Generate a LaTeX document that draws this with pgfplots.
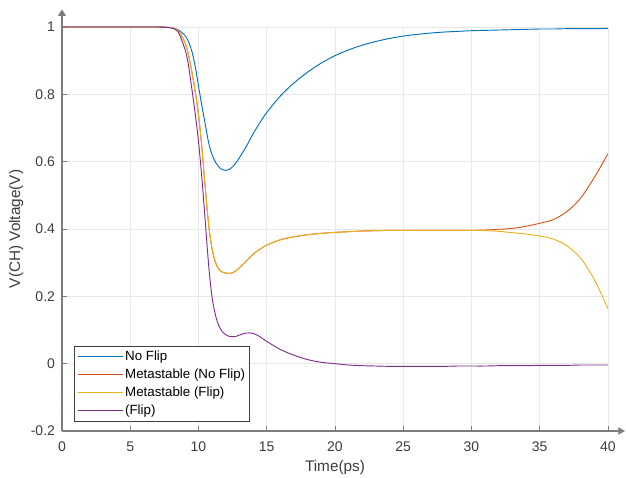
\documentclass[border=0pt]{standalone}
\usepackage{fontspec}
\setmainfont{Liberation Sans}
\usepackage{pgfplots}
\usepackage{pgfplotstable}
\pgfplotsset{compat=1.18}
\usetikzlibrary{arrows.meta}

\definecolor{mblue}{RGB}{0,114,189}
\definecolor{morange}{RGB}{217,83,25}
\definecolor{myellow}{RGB}{237,177,32}
\definecolor{mpurple}{RGB}{126,47,142}
\definecolor{axgray}{RGB}{125,125,125}
\definecolor{labgray}{RGB}{60,60,60}

% channel voltage transients: t (ps), no flip, metastable (no flip), metastable (flip), flip
\pgfplotstableread{
t     nf     mnf    mf     f
0     1      1      1      1
2     1      1      1      1
4     1      1      1      1
6     1      1      1      1
7     1      1      1      1
7.5   0.9995 0.9995 0.9995 0.999
8     0.998  0.998  0.998  0.997
8.5   0.992  0.99   0.99   0.986
9     0.975  0.955  0.955  0.935
9.25  0.958  0.92   0.92   0.89
9.5   0.93   0.87   0.87   0.82
9.75  0.885  0.81   0.81   0.745
10    0.825  0.74   0.74   0.66
10.25 0.765  0.64   0.64   0.55
10.5  0.71   0.52   0.52   0.42
10.75 0.655  0.41   0.41   0.29
11    0.62   0.34   0.34   0.195
11.25 0.598  0.30   0.30   0.143
11.5  0.584  0.28   0.28   0.112
11.75 0.576  0.272  0.272  0.095
12    0.574  0.269  0.269  0.086
12.25 0.577  0.268  0.268  0.081
12.5  0.585  0.27   0.27   0.080
12.75 0.597  0.276  0.276  0.081
13    0.612  0.285  0.285  0.085
13.5  0.645  0.305  0.305  0.091
14    0.683  0.325  0.325  0.090
14.5  0.716  0.34   0.34   0.080
15    0.746  0.352  0.352  0.066
16    0.795  0.368  0.368  0.042
17    0.834  0.377  0.377  0.025
18    0.866  0.383  0.383  0.012
19    0.893  0.387  0.387  0.004
20    0.915  0.390  0.390  0.0
21    0.932  0.392  0.392  -0.004
22    0.946  0.394  0.394  -0.006
23    0.957  0.395  0.395  -0.007
24    0.966  0.396  0.396  -0.008
25    0.973  0.396  0.396  -0.008
26    0.978  0.396  0.396  -0.008
27    0.982  0.396  0.396  -0.008
28    0.985  0.396  0.396  -0.008
29    0.987  0.396  0.396  -0.007
30    0.989  0.396  0.396  -0.007
31    0.990  0.397  0.395  -0.007
32    0.991  0.399  0.393  -0.006
33    0.992  0.402  0.389  -0.006
34    0.993  0.408  0.385  -0.006
35    0.994  0.417  0.379  -0.005
36    0.994  0.428  0.370  -0.005
37    0.995  0.452  0.350  -0.005
38    0.995  0.492  0.313  -0.004
39    0.995  0.553  0.250  -0.004
40    0.996  0.624  0.163  -0.004
}\transient

\begin{document}
\begin{tikzpicture}[x=1pt,y=1pt]
\useasboundingbox (0,0) rectangle (469.5,358.5);
\begin{axis}[
  at={(46.5pt,35.25pt)}, anchor=south west,
  scale only axis, width=409.5pt, height=303pt,
  xmin=0, xmax=40, ymin=-0.2, ymax=1,
  axis lines=left,
  axis line style={draw=axgray, line width=0.9pt},
  x axis line style={-{Triangle[length=5pt,width=5.5pt]}, shorten >=-12.75pt},
  y axis line style={-{Triangle[length=5pt,width=6pt]}, shorten >=-13.25pt},
  xtick={0,5,...,40},
  ytick={-0.2,0,0.2,0.4,0.6,0.8,1},
  yticklabels={-0.2,0,0.2,0.4,0.6,0.8,1},
  tick align=inside,
  major tick length=4pt,
  tick style={draw=axgray, line width=0.6pt},
  grid=major,
  major grid style={draw=black!9, line width=0.5pt},
  /pgf/number format/assume math mode=true,
  ticklabel style={font=\fontsize{10.5}{12}\selectfont, text=labgray},
  xticklabel style={yshift=-4.5pt},
  yticklabel style={xshift=-1.75pt},
  label style={font=\fontsize{11.5}{13}\selectfont, text=labgray},
  xlabel={Time(ps)},
  ylabel={V(CH) Voltage(V)},
  xlabel style={at={(axis description cs:0.5,-0.0916)}, anchor=center},
  ylabel style={at={(axis description cs:-0.084,0.5)}, anchor=center},
  legend style={at={(0.022,0.022)}, anchor=south west, draw=black!75,
    line width=0.6pt, fill=white, font=\fontsize{10}{12}\selectfont,
    inner xsep=2pt, inner ysep=1.5pt, row sep=0pt,
    nodes={inner sep=1.5pt, text height=8pt, text depth=2.4pt}},
  legend cell align=left,
  legend image code/.code={%
    \path[draw=white, line width=0pt] (0pt,0pt) -- (33.75pt,0pt);
    \draw[#1, line width=0.8pt, line cap=butt] (0pt,0.2pt) -- (33.75pt,0.2pt);},
]
\addplot[draw=mblue, line width=0.7pt, smooth] table[x=t, y=nf] {\transient};
\addlegendentry{No Flip}
\addplot[draw=morange, line width=0.7pt, smooth] table[x=t, y=mnf] {\transient};
\addlegendentry{Metastable (No Flip)}
\addplot[draw=myellow, line width=0.7pt, smooth] table[x=t, y=mf] {\transient};
\addlegendentry{Metastable (Flip)}
\addplot[draw=mpurple, line width=0.7pt, smooth] table[x=t, y=f] {\transient};
\addlegendentry{(Flip)}
\end{axis}
\end{tikzpicture}
\end{document}
